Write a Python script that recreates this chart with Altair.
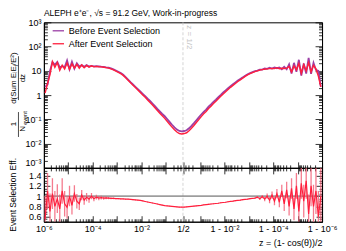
import altair as alt
import numpy as np
import pandas as pd

FONT = "Liberation Sans"
LOG2 = 0.30103
TD = 6 - LOG2
PURPLE = "#9b3fa6"
RED = "#ff1f3d"
ERRC = "#f25a72"

TITLE = "ALEPH e\u207ae\u207b,   \u221as = 91.2 GeV, Work-in-progress"
SERIES = ["Before Event Selection", "After Event Selection"]

# bin centres: log10(z) for z < 1/2, log10(1 - z) for z > 1/2 (from 1/2 outwards)
LOGZ_LEFT = [round(-5.95 + 0.1 * i, 2) for i in range(57)]
LOG1MZ_RIGHT = [round(-0.35 - 0.1 * i, 2) for i in range(57)]

AFTER_LEFT = [1.2, 3, 7, 24, 14, 22, 10.5, 17, 12, 21,
              11.5, 19.5, 13, 18.5, 12.8, 17.5, 13.5, 16.8, 14.2, 16,
              14.6, 15.3, 14.8, 14.5, 14.1, 13.5, 12.9, 12.0, 11.0, 9.8,
              8.7, 7.7, 6.5, 5.2, 4.1, 3.2, 2.57, 2.04, 1.62, 1.29,
              1.02, 0.81, 0.63, 0.50, 0.39, 0.30, 0.23, 0.18, 0.14, 0.11,
              0.083, 0.063, 0.048, 0.037, 0.030, 0.026, 0.025]
RATIO_LEFT = [0.55, 1.1, 0.7, 1.05, 0.8, 0.95, 0.75, 1.1, 0.85, 0.78,
              1.0, 0.82, 1.05, 0.9, 0.85, 1.02, 0.92, 0.98, 0.94, 1.0,
              0.95, 0.98, 0.96, 0.97, 0.96, 0.965, 0.96, 0.955, 0.955, 0.95,
              0.95, 0.945, 0.945, 0.94, 0.94, 0.935, 0.93, 0.925, 0.92, 0.915,
              0.905, 0.895, 0.885, 0.875, 0.865, 0.855, 0.845, 0.835, 0.825, 0.815,
              0.81, 0.805, 0.80, 0.795, 0.79, 0.785, 0.785]
ERR_LEFT = [0.45, 0.35, 0.35, 0.3, 0.3, 0.28, 0.28, 0.25, 0.25, 0.22,
            0.2, 0.18, 0.16, 0.14, 0.12, 0.1, 0.09, 0.08, 0.07, 0.06,
            0.05, 0.045, 0.04, 0.035, 0.03, 0.025, 0.02, 0.018, 0.015, 0.012,
            0.01, 0.01, 0.01, 0.01, 0.01, 0.01, 0.01, 0.01, 0.01, 0.01,
            0.008, 0.008, 0.008, 0.008, 0.008, 0.008, 0.008, 0.008, 0.008, 0.008,
            0.006, 0.006, 0.006, 0.006, 0.006, 0.006, 0.006]

AFTER_RIGHT = [0.026, 0.028, 0.034, 0.043, 0.056, 0.074, 0.098, 0.13, 0.17, 0.21,
               0.28, 0.35, 0.45, 0.56, 0.71, 0.89, 1.12, 1.38, 1.70, 2.09,
               2.51, 3.02, 3.63, 4.27, 5.0, 5.9, 6.8, 7.6, 8.5, 9.3,
               10.0, 10.7, 11.2, 11.7, 12.0, 12.3, 12.6, 12.4, 13.5, 12.2,
               12.8, 12.5, 13.0, 15.0, 9.0, 16, 11, 20, 8, 18,
               10, 22, 9, 17, 12, 6, 2.2]
RATIO_RIGHT = [0.785, 0.79, 0.795, 0.80, 0.805, 0.81, 0.815, 0.82, 0.83, 0.835,
               0.84, 0.845, 0.85, 0.855, 0.86, 0.87, 0.875, 0.88, 0.89, 0.895,
               0.90, 0.91, 0.915, 0.92, 0.93, 0.935, 0.94, 0.95, 0.955, 0.96,
               0.98, 0.95, 0.99, 0.94, 1.0, 0.92, 1.02, 0.9, 1.05, 0.88,
               1.1, 0.85, 1.12, 0.8, 1.15, 0.75, 1.2, 0.7, 1.25, 0.9,
               1.3, 0.65, 1.2, 0.8, 1.1, 0.6, 1.0]
ERR_RIGHT = [0.006] * 10 + [0.008] * 10 + [0.01] * 10 + \
            [0.02, 0.025, 0.03, 0.04, 0.05, 0.06, 0.07, 0.08, 0.09, 0.1,
             0.12, 0.14, 0.16, 0.18, 0.2, 0.22, 0.25, 0.28, 0.3, 0.32,
             0.35, 0.38, 0.4, 0.42, 0.45, 0.5, 0.55]

# ---- table -----------------------------------------------------------
t_left = [lz + LOG2 for lz in LOGZ_LEFT]
t_right = [-l - LOG2 for l in LOG1MZ_RIGHT]
df = pd.DataFrame({
    "t": t_left + t_right,
    "after": AFTER_LEFT + AFTER_RIGHT,
    "ratio": RATIO_LEFT + RATIO_RIGHT,
    "err": ERR_LEFT + ERR_RIGHT,
})
df["before"] = df["after"] / df["ratio"]
df["lo"] = df["ratio"] - df["err"]
df["hi"] = df["ratio"] + df["err"]
long = df.melt(id_vars="t", value_vars=["before", "after"], var_name="key", value_name="val")
long["series"] = long["key"].map({"before": SERIES[0], "after": SERIES[1]})

# ---- axis helpers ----------------------------------------------------
x_major, x_minor = [0.0], []
for k in range(-6, 0):
    x_major += [round(k + LOG2, 5), round(-k - LOG2, 5)]
    for m in range(2, 10):
        z = m * 10.0 ** k
        if z < 0.5:
            lz = np.log10(z)
            x_minor += [round(lz + LOG2, 5), round(-lz - LOG2, 5)]
x_vals = sorted(x_major + x_minor)
maj_list = "[" + ",".join(repr(v) for v in x_major) + "]"
x_test = f"indexof({maj_list}, datum.value) >= 0"
x_label_map = [(-TD, "10\u207b\u2076"), (-TD + 2, "10\u207b\u2074"), (-TD + 4, "10\u207b\u00b2"),
               (0.0, "1/2"), (TD - 4, "1 - 10\u207b\u00b2"), (TD - 2, "1 - 10\u207b\u2074"),
               (TD, "1 - 10\u207b\u2076")]
x_label_expr = "".join(f"abs(datum.value - ({v:.5f})) < 0.01 ? '{s}' : " for v, s in x_label_map) + "''"

y_vals = [round(m * 10.0 ** k, 6) for k in range(-3, 3) for m in range(1, 10)] + [1000.0]
LG = "(log(datum.value)/LN10)"
y_test = f"abs({LG} - round({LG})) < 0.001"
y_label_map = [(3, "10\u00b3"), (2, "10\u00b2"), (1, "10"), (0, "1"),
               (-1, "10\u207b\u00b9"), (-2, "10\u207b\u00b2"), (-3, "10\u207b\u00b3")]
y_label_expr = f"!({y_test}) ? '' : " + "".join(
    f"abs({LG} - ({e})) < 0.01 ? '{s}' : " for e, s in y_label_map) + "''"

r_vals = [round(0.5 + 0.05 * i, 2) for i in range(22)]
r_test = "abs(datum.value*5 - round(datum.value*5)) < 0.001"
r_label_expr = f"({r_test}) && datum.value > 0.55 && datum.value < 1.45 ? format(round(datum.value*10)/10, '~g') : ''"


def tsize(test, major, minor):
    return {"condition": {"test": test, "value": major}, "value": minor}


xscale = alt.Scale(domain=[-TD, TD], nice=False, zero=False)
yscale = alt.Scale(type="log", domain=[1e-3, 1e3], nice=False)
rscale = alt.Scale(domain=[0.5, 1.55], nice=False, zero=False)

common = dict(labelFont=FONT, labelFontSize=9, labelColor="black", tickColor="black",
              domainColor="black", grid=False, labelOverlap=False, tickWidth=0.8)

ax_main_x = alt.Axis(orient="bottom", values=x_vals, labels=False, title=None,
                     tickSize=tsize(x_test, -6, -3), **common)
ax_main_yl = alt.Axis(orient="left", values=y_vals, labelExpr=y_label_expr, title=None,
                      tickSize=tsize(y_test, -7, -3.5), labelPadding=10,
                      labelBaseline={"condition": {"test": "datum.value < 0.002", "value": "bottom"},
                                     "value": "middle"},
                      **common)
ax_main_yr = alt.Axis(orient="right", values=y_vals, labels=False, title=None,
                      tickSize=tsize(y_test, -7, -3.5), **common)
ax_low_x = alt.Axis(orient="bottom", values=x_vals, labelExpr=x_label_expr,
                    tickSize=tsize(x_test, -6, -3), labelPadding=9, labelFlush=False,
                    labelBound=False, title="z = (1- cos(\u03b8))/2", titleAnchor="end",
                    titleFont=FONT, titleFontSize=9, titleFontWeight="normal",
                    titlePadding=2, titleColor="black", **common)
ax_low_xt = alt.Axis(orient="top", values=x_vals, labels=False, title=None,
                     tickSize=tsize(x_test, -6, -3), **common)
ax_low_yl = alt.Axis(orient="left", values=r_vals, labelExpr=r_label_expr, title=None,
                     tickSize=tsize(r_test, -6, -3), labelPadding=9, **common)
ax_low_yr = alt.Axis(orient="right", values=r_vals, labels=False, title=None,
                     tickSize=tsize(r_test, -6, -3), **common)

W, H1, H2 = 279, 146, 54
color = alt.Color("series:N", scale=alt.Scale(domain=SERIES, range=[PURPLE, RED]),
                  legend=alt.Legend(orient="none", legendX=8, legendY=2, title=None,
                                    symbolType="stroke", symbolStrokeWidth=1.3,
                                    symbolSize=130, labelFont=FONT, labelFontSize=9,
                                    rowPadding=1, labelLimit=200))

zero_df = pd.DataFrame({"t": [0.0]})
one_df = pd.DataFrame({"r": [1.0]})
txt_df = pd.DataFrame({"a": [0]})

vline_main = alt.Chart(zero_df).mark_rule(color="#c8c8c8", strokeDash=[3, 2], strokeWidth=0.8).encode(
    x=alt.X("t:Q", scale=xscale, axis=ax_main_x))
before = alt.Chart(long).transform_filter(alt.datum.key == "before").mark_line(
    strokeWidth=1.8, clip=True).encode(
    x=alt.X("t:Q", scale=xscale, axis=None),
    y=alt.Y("val:Q", scale=yscale, axis=ax_main_yr), color=color)
after = alt.Chart(long).transform_filter(alt.datum.key == "after").mark_line(
    strokeWidth=1.4, clip=True).encode(
    x=alt.X("t:Q", scale=xscale, axis=None),
    y=alt.Y("val:Q", scale=yscale, axis=ax_main_yl), color=color)
half_txt = alt.Chart(zero_df).mark_text(angle=90, align="left", baseline="bottom", dy=-2,
                                        color="#c4c4c4", font=FONT, fontSize=8).encode(
    x=alt.X("t:Q", scale=xscale, axis=None), y=alt.value(3), text=alt.value("z = 1/2"))


def label(txt, x, y, size=8, angle=270, align="center", baseline="middle"):
    return alt.Chart(txt_df).mark_text(angle=angle, align=align, baseline=baseline,
                                       font=FONT, fontSize=size, color="black").encode(
        x=alt.value(x), y=alt.value(y), text=alt.value(txt))


def bar(x, y1, y2):
    return alt.Chart(txt_df).mark_rule(color="black", strokeWidth=0.7).encode(
        x=alt.value(x), y=alt.value(y1), y2=alt.value(y2))


title = label(TITLE, 0, -6, size=8.5, angle=0, align="left", baseline="alphabetic")
ytitle = [
    label("d(Sum E\u1d62E\u2c7c/E\u00b2)", -30, 56, size=8),
    bar(-25.5, 34, 78),
    label("dz", -20.5, 56, size=8),
    label("1", -30, 102, size=8),
    bar(-25.5, 90, 115),
    label("N", -20.5, 107, size=8),
    label("event", -18.5, 96, size=5.5),
]

main = alt.layer(vline_main, before, after, half_txt, title, *ytitle).resolve_axis(
    x="independent", y="independent").properties(width=W, height=H1)

vline_low = alt.Chart(zero_df).mark_rule(color="#c8c8c8", strokeDash=[3, 2], strokeWidth=0.8).encode(
    x=alt.X("t:Q", scale=xscale, axis=ax_low_x))
hline = alt.Chart(one_df).mark_rule(color="#555555", strokeWidth=1).encode(
    y=alt.Y("r:Q", scale=rscale, axis=ax_low_yr))
errs = alt.Chart(df).mark_rule(color=ERRC, strokeWidth=1.3, opacity=0.8, clip=True).encode(
    x=alt.X("t:Q", scale=xscale, axis=None),
    y=alt.Y("lo:Q", scale=rscale, axis=ax_low_yl), y2="hi:Q")
rline = alt.Chart(df).mark_line(color=RED, strokeWidth=1.2, clip=True).encode(
    x=alt.X("t:Q", scale=xscale, axis=ax_low_xt),
    y=alt.Y("ratio:Q", scale=rscale, axis=None))
low_title = label("Event Selection Eff.", -31, 27, size=8.5)

lower = alt.layer(vline_low, hline, errs, rline, low_title).resolve_axis(
    x="independent", y="independent").properties(width=W, height=H2)

chart = alt.vconcat(main, lower, spacing=0, bounds="flush").properties(
    padding=0, background="white"
).configure_view(stroke="black", strokeWidth=1)

chart.save("out.html", embed_options={"renderer": "svg", "actions": False})
